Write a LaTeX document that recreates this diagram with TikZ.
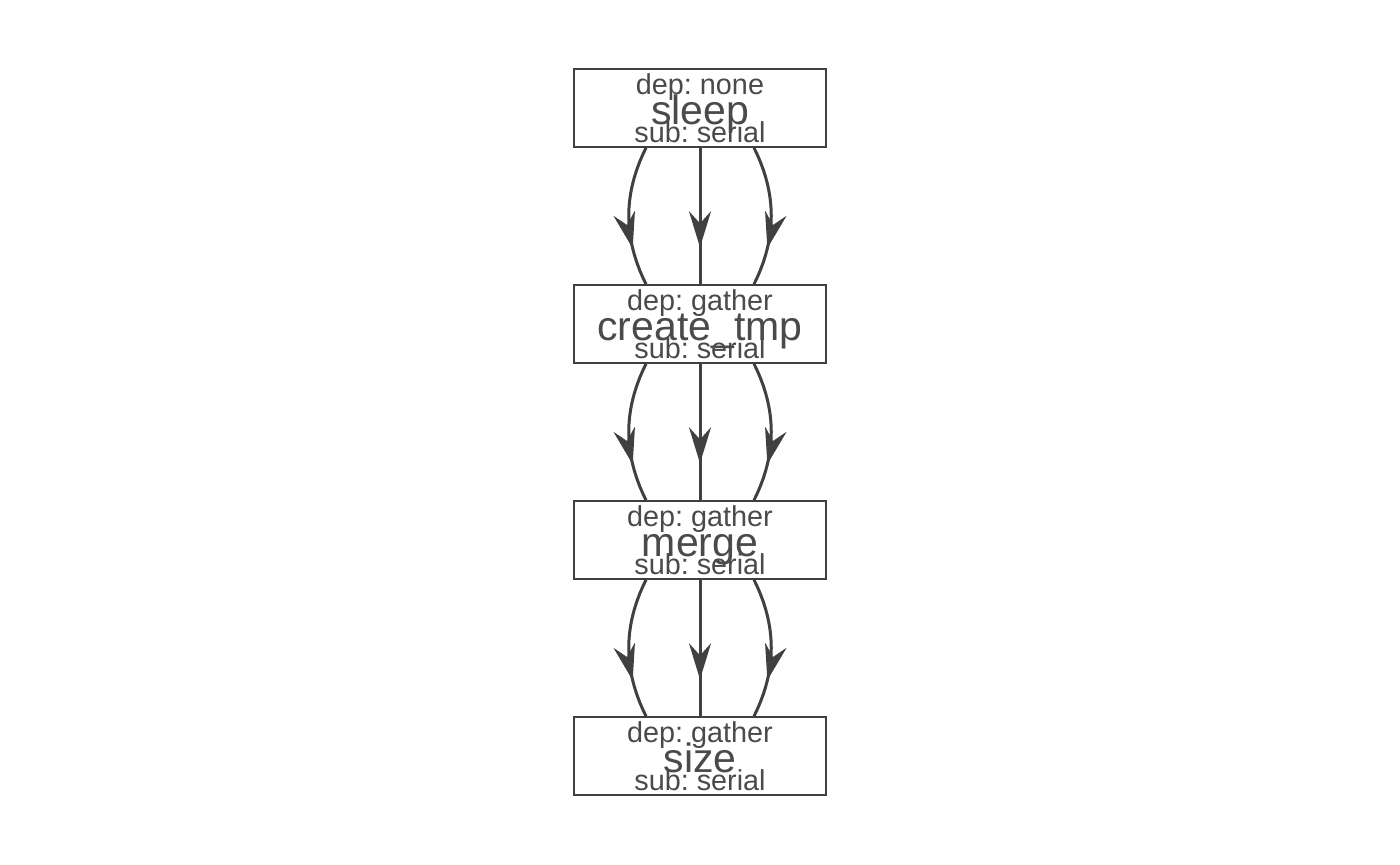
\documentclass[tikz,border=0pt]{standalone}
\usepackage{fontspec}
\setmainfont{Liberation Sans}
\usetikzlibrary{arrows.meta,decorations.markings,calc}
\definecolor{lc}{HTML}{404040}
\definecolor{tc}{HTML}{4A4A4A}
\frenchspacing
\tikzset{
 box/.style={draw=lc, line width=0.85pt, minimum width=126pt, minimum height=39pt, inner sep=0pt},
 small/.style={anchor=base, text=tc, font=\fontsize{14.4}{14.4}\selectfont, inner sep=0pt},
 big/.style={anchor=base, text=tc, font=\fontsize{20.5}{20.5}\selectfont, inner sep=0pt},
 edge/.style={draw=lc, line width=1.5pt, postaction={decorate},
   decoration={markings, mark=at position 0.73 with {\arrow{Stealth[length=18pt,width=11pt,inset=6pt]}}}},
}
\begin{document}
\begin{tikzpicture}[x=0.5pt,y=-0.5pt]
\useasboundingbox (0,0) rectangle (1400,865);
% boxes
\node[box] (n1) at (700,108) {};
\node[box] (n2) at (700,324) {};
\node[box] (n3) at (700,540) {};
\node[box] (n4) at (700,756) {};
% texts
\node[small] (d1) at ($(n1.north)+(0,26)$) {dep: none};
\node[big]   (t1) at ($(n1.north)+(0,56)$) {sleep};
\node[small] (s1) at ($(n1.north)+(0,74)$) {sub: serial};
\node[small] (d2) at ($(n2.north)+(0,26)$) {dep: gather};
\node[big]   (t2) at ($(n2.north)+(0,56)$) {create\_tmp};
\node[small] (s2) at ($(n2.north)+(0,74)$) {sub: serial};
\node[small] (d3) at ($(n3.north)+(0,26)$) {dep: gather};
\node[big]   (t3) at ($(n3.north)+(0,56)$) {merge};
\node[small] (s3) at ($(n3.north)+(0,74)$) {sub: serial};
\node[small] (d4) at ($(n4.north)+(0,26)$) {dep: gather};
\node[big]   (t4) at ($(n4.north)+(0,56)$) {size};
\node[small] (s4) at ($(n4.north)+(0,74)$) {sub: serial};
% edges
\foreach \a/\b in {n1/n2,n2/n3,n3/n4}{
  \draw[edge] (\a.south) -- (\b.north);
  \draw[edge] ($(\a.south)+(-54,0)$) .. controls +(-23,46) and +(-23,-46) .. ($(\b.north)+(-54,0)$);
  \draw[edge] ($(\a.south)+(54,0)$) .. controls +(23,46) and +(23,-46) .. ($(\b.north)+(54,0)$);
}
\end{tikzpicture}
\end{document}
